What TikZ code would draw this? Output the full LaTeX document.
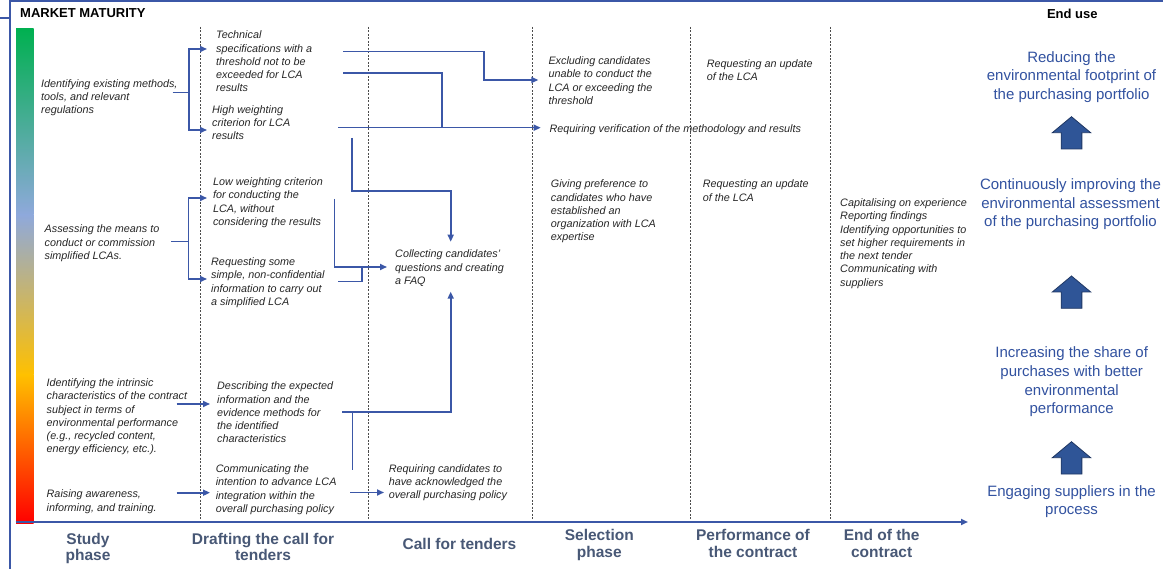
\documentclass[tikz,border=0pt]{standalone}
\usepackage{fontspec}
\setmainfont{Liberation Sans}
\usetikzlibrary{arrows.meta}

\definecolor{lineblue}{RGB}{59,87,167}
\definecolor{goalblue}{RGB}{50,82,160}
\definecolor{arrowblue}{RGB}{47,85,151}
\definecolor{arrowedge}{RGB}{32,56,100}
\definecolor{phasegray}{RGB}{72,88,118}
\definecolor{textgray}{RGB}{38,38,38}
\definecolor{bargreen}{RGB}{0,176,80}
\definecolor{barblue}{RGB}{143,169,219}
\definecolor{bargold}{RGB}{255,192,0}
\definecolor{barred}{RGB}{255,0,0}

\begin{document}
\begin{tikzpicture}[x=1pt,y=-1pt,>={Triangle[length=7pt,width=6pt]},
  task node/.style={anchor=north west,inner sep=0pt,align=left,text=textgray,font=\fontsize{10.8}{13.3}\selectfont\itshape},
  goal node/.style={anchor=north,inner sep=0pt,align=center,text=goalblue,font=\fontsize{15}{18.7}\selectfont},
  phase node/.style={anchor=north,inner sep=0pt,align=center,text=phasegray,font=\fontsize{15.5}{16.5}\selectfont\bfseries},
  head node/.style={inner sep=0pt,font=\fontsize{13}{15}\selectfont\bfseries},
  conn/.style={draw=lineblue,line width=1.6pt},
  frame line/.style={draw=lineblue,line width=1.8pt},
  phase line/.style={draw=black!70,line width=0.8pt,dash pattern=on 2pt off 1.5pt},
  up arrow/.style={fill=arrowblue,draw=arrowedge,line width=0.8pt}]

  \useasboundingbox (0,0) rectangle (1163,569);
  \fill[white] (0,0) rectangle (1163,569);

  \draw[frame line] (0,18.3) -- (10,18.3);
  \draw[frame line] (10,569) -- (10,0.9) -- (1163,0.9);

  \shade[top color=bargreen,bottom color=barblue] (16,28.3) rectangle (33.5,215);
  \shade[top color=barblue,bottom color=bargold] (16,215) rectangle (33.5,375);
  \shade[top color=bargold,bottom color=barred] (16,375) rectangle (33.5,523);

  \draw[phase line] (200,27) -- (200,519) (368.3,27) -- (368.3,519)
    (532.7,27) -- (532.7,519) (690,27) -- (690,519) (830.5,27) -- (830.5,519);

  \draw[frame line,->] (15.6,522) -- (968,522);

  \node[head node,anchor=north west] (mm) at (20,8.3) {MARKET MATURITY};
  \node[head node,anchor=north] (eu) at (1072.3,9) {End use};

  \node[task node] (s1) at (41,79) {Identifying existing methods,\\tools, and relevant\\regulations};
  \node[task node] (s2) at (44.5,224.7) {Assessing the means to\\conduct or commission\\simplified LCAs.};
  \node[task node] (s3) at (46.5,378.4) {Identifying the intrinsic\\characteristics of the contract\\subject in terms of\\environmental performance\\(e.g., recycled content,\\energy efficiency, etc.).};
  \node[task node] (s4) at (46.5,489.7) {Raising awareness,\\informing, and training.};

  \node[task node] (d1) at (216,30.7) {Technical\\specifications with a\\threshold not to be\\exceeded for LCA\\results};
  \node[task node] (d2) at (212,105) {High weighting\\criterion for LCA\\results};
  \node[task node] (d3) at (212.8,177.4) {Low weighting criterion\\for conducting the\\LCA, without\\considering the results};
  \node[task node] (d4) at (211,257.4) {Requesting some\\simple, non-confidential\\information to carry out\\a simplified LCA};
  \node[task node] (d5) at (217,381.7) {Describing the expected\\information and the\\evidence methods for\\the identified\\characteristics};
  \node[task node] (d6) at (215.6,464.4) {Communicating the\\intention to advance LCA\\integration within the\\overall purchasing policy};

  \node[task node] (c1) at (395,249.7) {Collecting candidates'\\questions and creating\\a FAQ};
  \node[task node] (c2) at (388.6,464) {Requiring candidates to\\have acknowledged the\\overall purchasing policy};

  \node[task node] (p1) at (548.3,56.4) {Excluding candidates\\unable to conduct the\\LCA or exceeding the\\threshold};
  \node[task node] (p2) at (549.3,124) {Requiring verification of the methodology and results};
  \node[task node] (p3) at (550.7,179.7) {Giving preference to\\candidates who have\\established an\\organization with LCA\\expertise};

  \node[task node] (r1) at (706.7,59) {Requesting an update\\of the LCA};
  \node[task node] (r2) at (702.7,179.7) {Requesting an update\\of the LCA};

  \node[task node] (e1) at (840,198.4) {Capitalising on experience\\Reporting findings\\Identifying opportunities to\\set higher requirements in\\the next tender\\Communicating with\\suppliers};

  \node[goal node] (g1) at (1071.5,51.2) {Reducing the\\environmental footprint of\\the purchasing portfolio};
  \node[goal node] (g2) at (1070.5,178.5) {Continuously improving the\\environmental assessment\\of the purchasing portfolio};
  \node[goal node] (g3) at (1071.7,346.8) {Increasing the share of\\purchases with better\\environmental\\performance};
  \node[goal node] (g4) at (1071.5,485.2) {Engaging suppliers in the\\process};

  \draw[up arrow] (1071.5,116.7) -- ++(19.2,16) -- ++(-8.85,0) -- ++(0,16.3) -- ++(-20.7,0) -- ++(0,-16.3) -- ++(-8.85,0) -- cycle;
  \draw[up arrow] (1071.5,276) -- ++(19.2,16) -- ++(-8.85,0) -- ++(0,16.3) -- ++(-20.7,0) -- ++(0,-16.3) -- ++(-8.85,0) -- cycle;
  \draw[up arrow] (1071.5,441.7) -- ++(19.2,16) -- ++(-8.85,0) -- ++(0,16.3) -- ++(-20.7,0) -- ++(0,-16.3) -- ++(-8.85,0) -- cycle;

  \node[phase node] (ph1) at (88,532.8) {Study\\phase};
  \node[phase node] (ph2) at (263,532.8) {Drafting the call for\\tenders};
  \node[phase node] (ph3) at (459.5,537.8) {Call for tenders};
  \node[phase node] (ph4) at (599.3,529.5) {Selection\\phase};
  \node[phase node] (ph5) at (753,529.5) {Performance of\\the contract};
  \node[phase node] (ph6) at (881.7,529.5) {End of the\\contract};

  \coordinate (s1o) at (172.7,92.7);
  \coordinate (j1) at (189,92.7);
  \coordinate (d1i) at (207,49);
  \coordinate (d2i) at (207,130);
  \draw[conn] (s1o) -- (j1);
  \draw[conn,->] (j1) |- (d1i);
  \draw[conn,->] (j1) |- (d2i);

  \coordinate (s2o) at (171,241.7);
  \coordinate (j2) at (188.6,241.7);
  \coordinate (d3i) at (207,198);
  \coordinate (d4i) at (207,279);
  \draw[conn] (s2o) -- (j2);
  \draw[conn,->] (j2) |- (d3i);
  \draw[conn,->] (j2) |- (d4i);

  \coordinate (s3o) at (176.5,404);
  \coordinate (d5i) at (210,404);
  \draw[conn,->] (s3o) -- (d5i);
  \coordinate (s4o) at (176.5,492.7);
  \coordinate (d6i) at (210,492.7);
  \draw[conn,->] (s4o) -- (d6i);

  \coordinate (d1o) at (343,51.7);
  \coordinate (j3) at (484,80);
  \coordinate (p1i) at (538.3,80);
  \draw[conn,->] (d1o) -| (j3) -- (p1i);
  \coordinate (d1p) at (343,73.3);
  \coordinate (j4) at (441.7,127.7);
  \draw[conn] (d1p) -| (j4);
  \coordinate (d2o) at (338.3,127.7);
  \coordinate (p2i) at (540.7,127.7);
  \draw[conn,->] (d2o) -- (p2i);

  \coordinate (d2p) at (351.7,138);
  \coordinate (j5) at (450.7,191);
  \coordinate (c1i) at (450.7,241.7);
  \draw[conn,->] (d2p) |- (j5) -- (c1i);
  \coordinate (d3o) at (334.6,199);
  \coordinate (c1w) at (387,267);
  \draw[conn,->] (d3o) |- (c1w);
  \coordinate (d4o) at (338,281.7);
  \coordinate (j6) at (362,267);
  \draw[conn] (d4o) -| (j6);

  \coordinate (d5o) at (342,412);
  \coordinate (c1s) at (450.7,291.7);
  \draw[conn,->] (d5o) -| (c1s);
  \coordinate (j7) at (352.5,412);
  \coordinate (d6o) at (352.5,470);
  \draw[conn] (j7) -- (d6o);
  \coordinate (d6p) at (350,492.5);
  \coordinate (c2i) at (384,492.5);
  \draw[conn,->] (d6p) -- (c2i);

\end{tikzpicture}
\end{document}
